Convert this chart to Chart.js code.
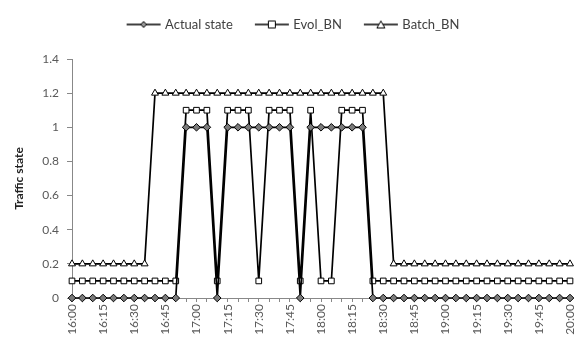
<!DOCTYPE html>
<html>
<head>
<meta charset="utf-8">
<script src="https://cdn.jsdelivr.net/npm/chart.js@4/dist/chart.umd.min.js"></script>
<style>
  html, body { margin: 0; padding: 0; background: #fff; }
  #wrap { width: 576px; height: 347px; }
</style>
</head>
<body>
<div id="wrap"><canvas id="chart" width="576" height="347"></canvas></div>
<script>
        // 5-minute steps, 16:00 .. 20:00
        const timeLabels = [
            '16:00','16:05','16:10','16:15','16:20','16:25','16:30','16:35','16:40','16:45','16:50','16:55',
            '17:00','17:05','17:10','17:15','17:20','17:25','17:30','17:35','17:40','17:45','17:50','17:55',
            '18:00','18:05','18:10','18:15','18:20','18:25','18:30','18:35','18:40','18:45','18:50','18:55',
            '19:00','19:05','19:10','19:15','19:20','19:25','19:30','19:35','19:40','19:45','19:50','19:55',
            '20:00'
        ];

        const actualState = [
            0,0,0,0,0,0,0,0,0,0,0,1,
            1,1,0,1,1,1,1,1,1,1,0,1,
            1,1,1,1,1,0,0,0,0,0,0,0,
            0,0,0,0,0,0,0,0,0,0,0,0,
            0
        ];

        const evolBN = [
            0.1,0.1,0.1,0.1,0.1,0.1,0.1,0.1,0.1,0.1,0.1,1.1,
            1.1,1.1,0.1,1.1,1.1,1.1,0.1,1.1,1.1,1.1,0.1,1.1,
            0.1,0.1,1.1,1.1,1.1,0.1,0.1,0.1,0.1,0.1,0.1,0.1,
            0.1,0.1,0.1,0.1,0.1,0.1,0.1,0.1,0.1,0.1,0.1,0.1,
            0.1
        ];

        const batchBN = [
            0.2,0.2,0.2,0.2,0.2,0.2,0.2,0.2,1.2,1.2,1.2,1.2,
            1.2,1.2,1.2,1.2,1.2,1.2,1.2,1.2,1.2,1.2,1.2,1.2,
            1.2,1.2,1.2,1.2,1.2,1.2,1.2,0.2,0.2,0.2,0.2,0.2,
            0.2,0.2,0.2,0.2,0.2,0.2,0.2,0.2,0.2,0.2,0.2,0.2,
            0.2
        ];

        const seriesNames = ['Actual state', 'Evol_BN', 'Batch_BN'];
        const yTicks = [0, 0.2, 0.4, 0.6, 0.8, 1, 1.2, 1.4];

        const fontFamily = 'Lato, "Open Sans", sans-serif';

        // legend swatch: short line with the marker in the middle (Excel style)
        function legendSwatch(style) {
            const c = document.createElement('canvas');
            c.width = 38;
            c.height = 12;
            const g = c.getContext('2d');
            g.strokeStyle = '#000';
            g.lineWidth = 1.3;
            g.beginPath();
            g.moveTo(2, 6);
            g.lineTo(36, 6);
            g.stroke();
            g.lineWidth = 1;
            g.beginPath();
            if (style === 'rectRot') {
                g.fillStyle = '#999';
                g.moveTo(19, 3); g.lineTo(22, 6); g.lineTo(19, 9); g.lineTo(16, 6); g.closePath();
            } else if (style === 'rect') {
                g.fillStyle = '#fff';
                g.rect(15.5, 2.5, 7, 7);
            } else {
                g.fillStyle = '#fff';
                g.moveTo(19, 2.5); g.lineTo(23, 9.5); g.lineTo(15, 9.5); g.closePath();
            }
            g.fill();
            g.stroke();
            return c;
        }

        const markerStyles = ['rectRot', 'rect', 'triangle'];
        const swatches = markerStyles.map(legendSwatch);

        // extra room under the legend, like the gap in the original
        const legendGap = {
            id: 'legendGap',
            beforeLayout(chart) {
                const lg = chart.legend;
                if (lg && !lg._gapPatched) {
                    const origFit = lg.fit;
                    lg.fit = function () {
                        origFit.call(this);
                        this.height += 18;
                    };
                    lg._gapPatched = true;
                }
            }
        };

        const ctx = document.getElementById('chart').getContext('2d');

        const config = {
            type: 'line',
            data: {
                labels: timeLabels,
                datasets: [
                    {
                        label: seriesNames[0],
                        data: actualState,
                        borderColor: '#000',
                        borderWidth: 1.7,
                        pointStyle: 'rectRot',
                        pointRadius: 3.8,
                        pointBackgroundColor: '#7a7a7a',
                        pointBorderColor: '#000',
                        pointBorderWidth: 1,
                        tension: 0,
                        clip: false,
                        order: 1
                    },
                    {
                        label: seriesNames[1],
                        data: evolBN,
                        borderColor: '#000',
                        borderWidth: 1.7,
                        pointStyle: 'rect',
                        pointRadius: 4,
                        pointBackgroundColor: '#fff',
                        pointBorderColor: '#000',
                        pointBorderWidth: 1,
                        tension: 0,
                        clip: false,
                        order: 2
                    },
                    {
                        label: seriesNames[2],
                        data: batchBN,
                        borderColor: '#000',
                        borderWidth: 1.7,
                        pointStyle: 'triangle',
                        pointRadius: 4,
                        pointBackgroundColor: '#fff',
                        pointBorderColor: '#000',
                        pointBorderWidth: 1,
                        tension: 0,
                        clip: false,
                        order: 3
                    }
                ]
            },
            options: {
                responsive: false,
                animation: false,
                layout: {
                    padding: { left: 12, right: 0, top: -6, bottom: 2 }
                },
                scales: {
                    x: {
                        type: 'category',
                        offset: false,
                        grid: {
                            display: true,
                            drawOnChartArea: false,
                            drawTicks: true,
                            tickLength: 4,
                            color: '#888'
                        },
                        border: {
                            display: true,
                            color: '#888',
                            width: 1
                        },
                        ticks: {
                            autoSkip: false,
                            minRotation: 90,
                            maxRotation: 90,
                            padding: 2,
                            color: '#595959',
                            font: { family: fontFamily, size: 12 },
                            callback: function (value, index) {
                                return index % 3 === 0 ? timeLabels[index] : '';
                            }
                        },
                        afterFit: function (scale) {
                            scale.height = 47;
                            scale.paddingLeft = 0;
                            scale.paddingRight = 6;
                        }
                    },
                    y: {
                        min: 0,
                        max: 1.4,
                        afterBuildTicks: function (scale) {
                            scale.ticks = yTicks.map(v => ({ value: v }));
                        },
                        grid: {
                            display: true,
                            drawOnChartArea: false,
                            drawTicks: true,
                            tickLength: 5,
                            color: '#888'
                        },
                        border: {
                            display: true,
                            color: '#888',
                            width: 1
                        },
                        title: {
                            display: true,
                            text: 'Traffic state',
                            color: '#222',
                            font: { family: fontFamily, size: 12, weight: 'bold' },
                            padding: { top: 0, bottom: 8 }
                        },
                        ticks: {
                            padding: 8,
                            color: '#595959',
                            font: { family: fontFamily, size: 12 },
                            callback: function (value) {
                                return String(Math.round(value * 10) / 10);
                            }
                        },
                        afterFit: function (scale) {
                            scale.width = 60;
                        }
                    }
                },
                plugins: {
                    legend: {
                        display: true,
                        position: 'top',
                        labels: {
                            usePointStyle: true,
                            pointStyleWidth: 30,
                            boxHeight: 12,
                            padding: 24,
                            color: '#404040',
                            font: { family: fontFamily, size: 13 },
                            generateLabels: function (chart) {
                                return chart.data.datasets.map((ds, i) => ({
                                    text: ds.label,
                                    pointStyle: swatches[i],
                                    fillStyle: '#fff',
                                    strokeStyle: '#000',
                                    lineWidth: 0,
                                    fontColor: '#404040',
                                    hidden: false,
                                    datasetIndex: i
                                }));
                            }
                        }
                    },
                    tooltip: { enabled: false }
                }
            },
            plugins: [legendGap]
        };

        new Chart(ctx, config);
</script>
</body>
</html>
